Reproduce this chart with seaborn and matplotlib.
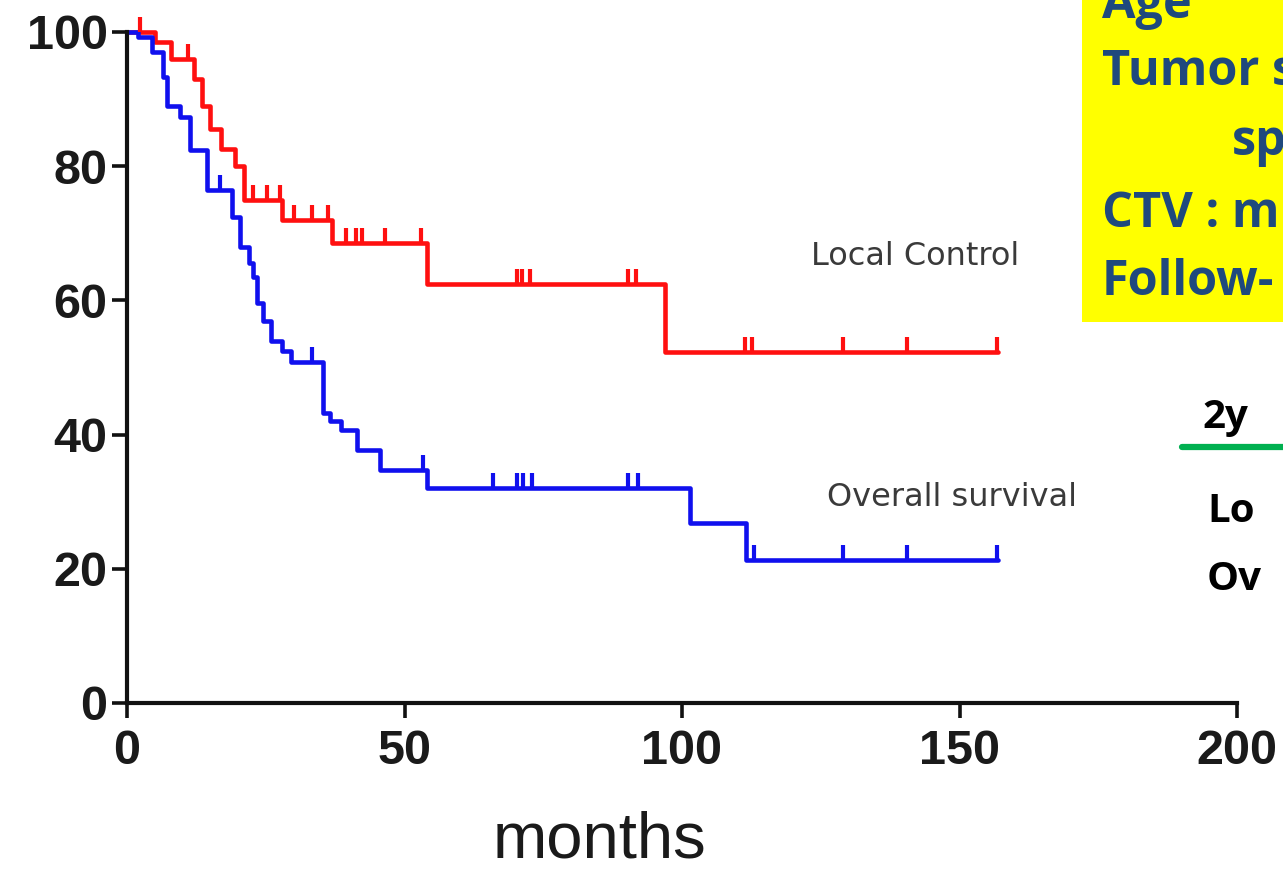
import numpy as np
import pandas as pd
import matplotlib
matplotlib.use("Agg")
import matplotlib.pyplot as plt
from matplotlib.patches import Rectangle
import seaborn as sns

# ---- data ----
# local control: step times (months) and levels (%)
lc_time = [0, 5, 8, 12, 13.5, 15, 17, 19.5, 21, 28, 37, 54, 97, 157]
lc_surv = [100, 98.5, 96, 93, 89, 85.5, 82.5, 80, 75, 72, 68.5, 62.5, 52.3, 52.3]
lc_censor = [2.3, 11, 22.7, 25.2, 27.6, 30, 33.4, 36.2, 39.5, 41.2, 42.4, 46.5, 53,
             70.3, 71.2, 72.7, 90.3, 91.8, 111.4, 112.7, 129, 140.5, 156.7]

# overall survival
os_time = [0, 2, 4.5, 6.5, 7.2, 9.6, 11.4, 14.4, 19, 20.4, 22, 22.7, 23.5, 24.5, 26,
           28, 29.5, 35.4, 36.5, 38.5, 41.5, 45.5, 54.1, 101.5, 111.5, 157]
os_surv = [100, 99.3, 97, 93.3, 89, 87.3, 82.4, 76.4, 72.4, 68, 65.5, 63.5, 59.6, 57,
           54, 52.5, 50.8, 43.2, 42, 40.7, 37.7, 34.7, 32, 26.8, 21.3, 21.3]
os_censor = [16.8, 33.4, 53.4, 66, 70.3, 71.3, 73, 90.2, 92, 113, 129, 140.5, 156.7]

curve_names = ["Local Control", "Overall survival"]
curve_colors = ["#ff1010", "#1010ee"]
x_ticks = [0, 50, 100, 150, 200]
y_ticks = [0, 20, 40, 60, 80, 100]

box_lines = ["Age", "Tumor s", "sp", "CTV : m", "Follow-"]
table_head = "2y"
table_rows = ["Lo", "Ov"]

# ---- build a long table for seaborn ----
df = pd.concat([
    pd.DataFrame({"months": lc_time, "pct": lc_surv, "curve": curve_names[0]}),
    pd.DataFrame({"months": os_time, "pct": os_surv, "curve": curve_names[1]}),
], ignore_index=True)


def level_at(times, levels, t):
    i = np.searchsorted(times, t, side="right") - 1
    return np.asarray(levels)[i]


sns.set_style("ticks")
W, H = 1283, 875
fig = plt.figure(figsize=(W / 100, H / 100), dpi=100)
ax = fig.add_axes([127 / W, 1 - 703 / H, (1237 - 127) / W, (703 - 32) / H])

sns.lineplot(data=df, x="months", y="pct", hue="curve", palette=curve_colors,
             drawstyle="steps-post", estimator=None, sort=False, legend=False,
             linewidth=3.3, ax=ax, clip_on=False)

# censor ticks
for times, levels, cens, col in [(lc_time, lc_surv, lc_censor, curve_colors[0]),
                                 (os_time, os_surv, os_censor, curve_colors[1])]:
    ax.plot(cens, level_at(times, levels, cens), ls="none", marker=2, ms=11,
            mew=3, color=col, clip_on=False)

ax.set_xlim(0, 200)
ax.set_ylim(0, 100)
ax.set_xticks(x_ticks)
ax.set_yticks(y_ticks)
sns.despine(ax=ax)
for s in ["left", "bottom"]:
    ax.spines[s].set_linewidth(3)
    ax.spines[s].set_color("#111111")
ax.tick_params(axis="both", width=2.6, length=11, color="#111111",
               labelsize=35, labelcolor="#1a1a1a")
ax.tick_params(axis="x", pad=8)
ax.tick_params(axis="y", pad=3)
for lab in ax.get_xticklabels() + ax.get_yticklabels():
    lab.set_fontfamily("Liberation Sans")
    lab.set_fontweight("bold")

ax.set_ylabel("")
ax.set_xlabel("months", fontsize=47, family="Liberation Sans", color="#1a1a1a")
ax.xaxis.set_label_coords((600 - 127) / 1110, (703 - 810) / 671)

ax.text(142, 66.6, curve_names[0], fontsize=23, color="#3a3a3a",
        ha="center", va="center", family="DejaVu Sans")
ax.text(148.6, 30.7, curve_names[1], fontsize=23, color="#3a3a3a",
        ha="center", va="center", family="DejaVu Sans")

# ---- yellow box (cut off at the right edge, as in the source slide) ----
fig.add_artist(Rectangle((1082 / W, 1 - 322 / H), (W - 1082) / W, 322 / H,
                         transform=fig.transFigure, facecolor="#ffff00",
                         edgecolor="none", zorder=5))
box_x = [1102, 1102, 1232, 1102, 1102]
box_y = [18, 85, 155, 227, 295]
for t, bx, by in zip(box_lines, box_x, box_y):
    fig.text(bx / W, 1 - by / H, t, fontsize=35, fontweight="bold",
             family="Open Sans", color="#1f497d", ha="left", va="baseline",
             zorder=6)

# ---- small table ----
fig.text(1202 / W, 1 - 428 / H, table_head, fontsize=29, fontweight="bold",
         family="Open Sans", color="black", ha="left", va="baseline")
fig.add_artist(plt.Line2D([1182 / W, 1], [1 - 447 / H, 1 - 447 / H],
                          transform=fig.transFigure, color="#00b050", lw=4.5))
for t, by in zip(table_rows, [522, 590]):
    fig.text(1207 / W, 1 - by / H, t, fontsize=29, fontweight="bold",
             family="Open Sans", color="black", ha="left", va="baseline")

fig.savefig("out.png", dpi=100)
